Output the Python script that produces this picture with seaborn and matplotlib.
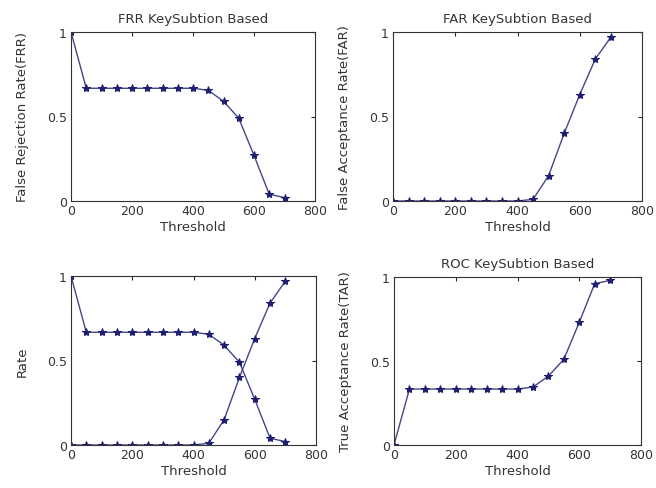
import numpy as np
import pandas as pd
import matplotlib
matplotlib.use("Agg")
import matplotlib.pyplot as plt
import seaborn as sns

threshold = [0, 50, 100, 150, 200, 250, 300, 350, 400, 450, 500, 550, 600, 650, 700]
frr = [1.0, 0.667, 0.667, 0.667, 0.667, 0.667, 0.667, 0.667, 0.667, 0.655, 0.59, 0.49, 0.27, 0.04, 0.02]
far = [0.0, 0.0, 0.0, 0.0, 0.0, 0.0, 0.0, 0.0, 0.0, 0.01, 0.15, 0.40, 0.63, 0.84, 0.97]
tar = [0.0, 0.333, 0.333, 0.333, 0.333, 0.333, 0.333, 0.333, 0.333, 0.345, 0.41, 0.51, 0.73, 0.96, 0.98]

df = pd.DataFrame({"Threshold": threshold, "FRR": frr, "FAR": far, "TAR": tar})

sns.set_style("white")
plt.rcParams["font.family"] = ["DejaVu Sans"]

line_c = "#45458a"
mk_c = "#1f1f72"
fs = 9.5
tfs = 9

fig = plt.figure(figsize=(6.56, 4.89), dpi=100)
W, H = 656, 489
boxes = [(71, 33, 315, 202), (393, 33, 642, 202), (71, 277, 316, 446), (394, 278, 641, 446)]
axes = [fig.add_axes([l / W, 1 - b / H, (r - l) / W, (b - t) / H]) for l, t, r, b in boxes]


def draw(ax, col):
    sns.lineplot(data=df, x="Threshold", y=col, ax=ax, color=line_c, lw=1.0,
                 marker="*", markersize=6, markerfacecolor=mk_c, markeredgecolor=mk_c)


draw(axes[0], "FRR")
axes[0].set_title("FRR KeySubtion Based", fontsize=fs, pad=7, color="#333333")
axes[0].set_ylabel("False Rejection Rate(FRR)", fontsize=fs)

draw(axes[1], "FAR")
axes[1].set_title("FAR KeySubtion Based", fontsize=fs, pad=7, color="#333333")
axes[1].set_ylabel("False Acceptance Rate(FAR)", fontsize=fs)

draw(axes[2], "FRR")
draw(axes[2], "FAR")
axes[2].set_ylabel("Rate", fontsize=fs)

draw(axes[3], "TAR")
axes[3].set_title("ROC KeySubtion Based", fontsize=fs, pad=7, color="#333333")
axes[3].set_ylabel("True Acceptance Rate(TAR)", fontsize=fs)

for ax in axes:
    ax.set_xlim(0, 800)
    ax.set_ylim(0, 1)
    ax.set_xticks([0, 200, 400, 600, 800])
    ax.set_yticks([0, 0.5, 1])
    ax.set_yticklabels(["0", "0.5", "1"])
    ax.set_xlabel("Threshold", fontsize=fs, labelpad=2, color="#333333")
    ax.yaxis.label.set_color("#333333")
    ax.yaxis.labelpad = 13
    ax.tick_params(direction="in", length=3, labelsize=tfs, pad=3, top=True, right=True,
                   labeltop=False, labelright=False, labelcolor="#333333")
    ax.tick_params(axis="x", pad=2)
    for s in ax.spines.values():
        s.set_color("#333333")
        s.set_linewidth(0.8)

fig.savefig("out.png", dpi=100)
